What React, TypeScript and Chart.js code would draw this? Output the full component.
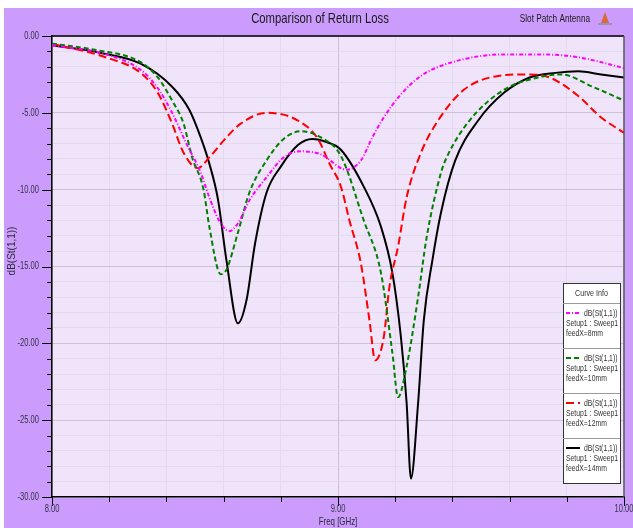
import React, { useEffect, useRef } from "react";
import { Chart, registerables } from "chart.js";

Chart.register(...registerables);

const freq8 = [8.0, 8.19, 8.31, 8.37, 8.42, 8.47, 8.52, 8.55, 8.59, 8.62, 8.65, 8.69, 8.75, 8.81, 8.87, 8.94, 9.03, 9.08, 9.12, 9.16, 9.22, 9.29, 9.4, 9.58, 9.7, 9.81, 9.92, 10.0];
const s11_8 = [-0.6, -1.2, -2.2, -3.4, -5.0, -7.0, -8.9, -10.5, -12.2, -12.7, -12.2, -10.7, -9.2, -7.9, -7.5, -7.7, -8.7, -8.1, -6.6, -5.3, -3.8, -2.6, -1.7, -1.2, -1.2, -1.3, -1.7, -2.1];

const freq10 = [8.0, 8.15, 8.31, 8.37, 8.42, 8.46, 8.49, 8.53, 8.55, 8.59, 8.61, 8.65, 8.69, 8.75, 8.81, 8.87, 8.94, 9.01, 9.09, 9.15, 9.19, 9.21, 9.24, 9.28, 9.31, 9.36, 9.38, 9.46, 9.58, 9.7, 9.78, 9.89, 10.0];
const s11_10 = [-0.5, -0.9, -1.7, -2.7, -4.2, -5.7, -7.9, -10.0, -12.4, -15.5, -15.2, -12.8, -10.2, -8.1, -6.7, -6.2, -6.6, -7.8, -12.0, -15.4, -20.6, -23.5, -21.5, -17.0, -13.1, -8.9, -7.9, -5.5, -3.5, -2.7, -2.5, -3.3, -4.2];

const freq12 = [8.0, 8.19, 8.31, 8.37, 8.42, 8.46, 8.51, 8.55, 8.61, 8.66, 8.75, 8.86, 8.93, 8.97, 9.01, 9.04, 9.08, 9.11, 9.13, 9.16, 9.18, 9.21, 9.24, 9.29, 9.35, 9.44, 9.56, 9.66, 9.74, 9.84, 9.92, 10.0];
const s11_12 = [-0.5, -1.4, -2.4, -3.7, -5.7, -7.6, -8.6, -7.9, -6.6, -5.7, -5.0, -5.5, -6.7, -8.3, -9.8, -12.0, -14.8, -18.5, -21.1, -19.6, -16.3, -13.7, -10.5, -7.6, -5.5, -3.5, -2.6, -2.5, -2.7, -3.9, -5.3, -6.3];

const freq14 = [8.0, 8.17, 8.31, 8.42, 8.48, 8.52, 8.55, 8.58, 8.61, 8.65, 8.68, 8.71, 8.75, 8.8, 8.86, 8.91, 8.96, 9.01, 9.09, 9.15, 9.19, 9.22, 9.24, 9.255, 9.28, 9.3, 9.33, 9.36, 9.41, 9.49, 9.58, 9.67, 9.76, 9.84, 9.92, 10.0];
const s11_14 = [-0.6, -1.1, -1.8, -3.3, -4.8, -6.6, -8.3, -10.6, -14.6, -18.7, -17.2, -13.5, -10.2, -8.5, -7.1, -6.7, -6.9, -7.4, -9.8, -12.4, -15.4, -19.6, -23.9, -28.8, -23.9, -18.5, -14.6, -11.5, -8.1, -5.5, -3.7, -2.7, -2.4, -2.3, -2.5, -2.7];

const seriesNames = ["feedX=8mm", "feedX=10mm", "feedX=12mm", "feedX=14mm"];
const seriesColors = ["#ff00ff", "#008000", "#ff0000", "#000000"];
const seriesDashes: number[][] = [[4, 2, 1, 2], [5, 3], [8, 4], []];

const xTickLabels = ["8.00", "9.00", "10.00"];
const xTickValues = [8, 9, 10];
const yTickLabels = ["0.00", "-5.00", "-10.00", "-15.00", "-20.00", "-25.00", "-30.00"];
const yTickValues = [0, -5, -10, -15, -20, -25, -30];

const chartTitle = "Comparison of Return Loss";
const projectName = "Slot Patch Antenna";
const xTitle = "Freq [GHz]";
const yTitle = "dB(St(1,1))";
const curveLabel = "dB(St(1,1))";
const setupLabel = "Setup1 : Sweep1";
const legendTitle = "Curve Info";

const FONT = "'Liberation Sans', Arial, sans-serif";

const isMult = (v: number, m: number) => Math.abs(v / m - Math.round(v / m)) < 1e-6;

function pts(xs: number[], ys: number[]) {
  return xs.map((x, i) => ({ x, y: ys[i] }));
}

function txt(ctx: CanvasRenderingContext2D, s: string, x: number, y: number, size: number, align: CanvasTextAlign, sx: number, color: string) {
  ctx.save();
  ctx.font = `${size}px ${FONT}`;
  ctx.fillStyle = color;
  ctx.textAlign = align;
  ctx.textBaseline = "middle";
  ctx.translate(x, y);
  ctx.scale(sx, 1);
  ctx.fillText(s, 0, 0);
  ctx.restore();
}

const decor = {
  id: "decor",
  beforeDraw(chart: any) {
    const { ctx, chartArea: a, width, height } = chart;
    ctx.save();
    ctx.fillStyle = "#cc9cfc";
    ctx.fillRect(0, 0, width, height);
    ctx.fillStyle = "#f0e4fb";
    ctx.fillRect(a.left, a.top, a.right - a.left, a.bottom - a.top);
    ctx.restore();
  },
  afterDraw(chart: any) {
    const { ctx, chartArea: a, scales } = chart;
    const xs = scales.x;
    const ys = scales.y;
    ctx.save();
    // borders
    ctx.strokeStyle = "#000";
    ctx.lineWidth = 1.5;
    ctx.beginPath();
    ctx.moveTo(a.left, a.top);
    ctx.lineTo(a.right, a.top);
    ctx.stroke();
    ctx.strokeStyle = "#555";
    ctx.beginPath();
    ctx.moveTo(a.right, a.top);
    ctx.lineTo(a.right, a.bottom);
    ctx.stroke();
    // ticks
    ctx.strokeStyle = "#000";
    ctx.lineWidth = 1;
    for (let v = -30; v <= 0; v += 1) {
      const y = Math.round(ys.getPixelForValue(v)) + 0.5;
      const len = v % 5 === 0 ? 10 : 5;
      ctx.beginPath();
      ctx.moveTo(a.left - len, y);
      ctx.lineTo(a.left, y);
      ctx.stroke();
    }
    for (let i = 0; i <= 10; i++) {
      const v = 8 + i * 0.2;
      const x = Math.round(xs.getPixelForValue(v)) + 0.5;
      const len = i % 5 === 0 ? 9 : 5;
      ctx.beginPath();
      ctx.moveTo(x, a.bottom);
      ctx.lineTo(x, a.bottom + len);
      ctx.stroke();
    }
    // tick labels
    yTickValues.forEach((v, i) => {
      txt(ctx, yTickLabels[i], 35, ys.getPixelForValue(v), 10.5, "right", 0.72, "#333348");
    });
    xTickValues.forEach((v, i) => {
      txt(ctx, xTickLabels[i], xs.getPixelForValue(v), 501, 10.5, "center", 0.72, "#333348");
    });
    // titles
    txt(ctx, chartTitle, 316, 11, 14.5, "center", 0.78, "#1a1a1a");
    txt(ctx, projectName, 586, 11, 10, "right", 0.82, "#1a1a1a");
    // icon
    ctx.fillStyle = "#d86a3a";
    ctx.beginPath();
    ctx.moveTo(601, 4);
    ctx.lineTo(597, 15);
    ctx.lineTo(605, 15);
    ctx.closePath();
    ctx.fill();
    ctx.fillStyle = "#9a90b8";
    ctx.fillRect(594, 15, 14, 2);
    // axis titles
    txt(ctx, xTitle, xs.getPixelForValue(9), 514, 10.5, "center", 0.75, "#2a2a3a");
    ctx.save();
    ctx.translate(8, 243);
    ctx.rotate(-Math.PI / 2);
    txt(ctx, yTitle, 0, 0, 10.5, "center", 0.95, "#2a2a3a");
    ctx.restore();
    // legend
    const lx = 559, lt = 275, lr = 616, lb = 475;
    ctx.fillStyle = "#ffffff";
    ctx.fillRect(lx, lt, lr - lx, lb - lt);
    ctx.strokeStyle = "#333";
    ctx.lineWidth = 1;
    ctx.strokeRect(lx + 0.5, lt + 0.5, lr - lx, lb - lt);
    txt(ctx, legendTitle, (lx + lr) / 2, 285, 9.5, "center", 0.75, "#333");
    const seps = [295, 340, 385, 430];
    ctx.strokeStyle = "#999";
    seps.forEach((s) => {
      ctx.beginPath();
      ctx.moveTo(lx, s + 0.5);
      ctx.lineTo(lr, s + 0.5);
      ctx.stroke();
    });
    seriesNames.forEach((name, i) => {
      const y1 = seps[i] + 10;
      ctx.strokeStyle = seriesColors[i];
      ctx.lineWidth = 2;
      ctx.setLineDash(seriesDashes[i]);
      ctx.beginPath();
      ctx.moveTo(lx + 3, y1);
      ctx.lineTo(lx + 17, y1);
      ctx.stroke();
      ctx.setLineDash([]);
      txt(ctx, curveLabel, lx + 21, y1, 9.5, "left", 0.72, "#333");
      txt(ctx, setupLabel, lx + 3, y1 + 10, 9.5, "left", 0.72, "#333");
      txt(ctx, name, lx + 3, y1 + 20, 9.5, "left", 0.72, "#333");
    });
    ctx.restore();
  },
};

export default function App() {
  const ref = useRef<HTMLCanvasElement | null>(null);
  useEffect(() => {
    if (!ref.current) return;
    const datasets = [
      [freq8, s11_8],
      [freq10, s11_10],
      [freq12, s11_12],
      [freq14, s11_14],
    ].map(([xs, ys], i) => ({
      label: seriesNames[i],
      data: pts(xs, ys),
      borderColor: seriesColors[i],
      borderWidth: 2,
      borderDash: seriesDashes[i],
      pointRadius: 0,
      fill: false,
      cubicInterpolationMode: "monotone" as const,
    }));
    const chart = new Chart(ref.current, {
      type: "line",
      data: { datasets },
      plugins: [decor],
      options: {
        animation: false,
        responsive: false,
        devicePixelRatio: 1,
        layout: { padding: { top: 28, right: 9, left: 0, bottom: 0 } },
        plugins: { legend: { display: false }, tooltip: { enabled: false }, title: { display: false } },
        scales: {
          x: {
            type: "linear",
            min: 8,
            max: 10,
            afterFit: (s: any) => { s.height = 31; s.paddingLeft = 0; s.paddingRight = 0; },
            afterBuildTicks: (s: any) => {
              const t = [];
              for (let i = 0; i <= 10; i++) t.push({ value: 8 + i * 0.2 });
              s.ticks = t;
            },
            ticks: { display: false, autoSkip: false },
            grid: {
              drawTicks: false,
              color: (c: any) => (isMult(c.tick.value, 1) ? "#cbc2d4" : "#e4daee"),
              lineWidth: 1,
            },
            border: { display: true, color: "#000", width: 1.5 },
          },
          y: {
            type: "linear",
            min: -30,
            max: 0,
            afterFit: (s: any) => { s.width = 48; s.paddingTop = 0; s.paddingBottom = 0; },
            afterBuildTicks: (s: any) => {
              const t = [];
              for (let v = -30; v <= 0; v++) t.push({ value: v });
              s.ticks = t;
            },
            ticks: { display: false, autoSkip: false },
            grid: {
              drawTicks: false,
              color: (c: any) => (isMult(c.tick.value, 5) ? "#cbc2d4" : "#e4daee"),
              lineWidth: 1,
            },
            border: { display: true, color: "#000", width: 1.5 },
          },
        },
      },
    });
    return () => chart.destroy();
  }, []);
  return (
    <div style={{ position: "absolute", left: 4, top: 8, width: 629, height: 520, background: "#cc9cfc" }}>
      <canvas ref={ref} width={629} height={520} style={{ display: "block" }} />
    </div>
  );
}
